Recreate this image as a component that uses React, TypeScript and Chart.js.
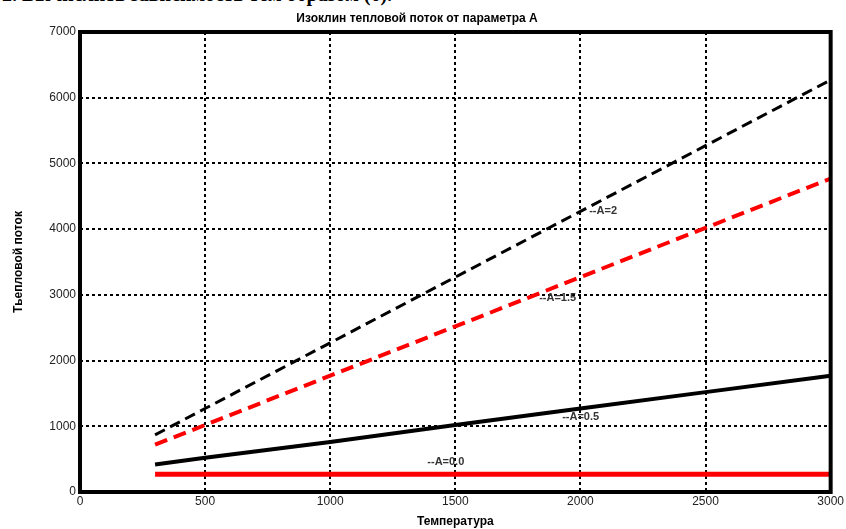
import React, { useEffect, useRef } from "react";
import { Chart, registerables } from "chart.js";

Chart.register(...registerables);

const temps = [300, 500, 1000, 1500, 2000, 2500, 3000];
const seriesA2 = [870, 1270, 2270, 3270, 4270, 5270, 6270];
const seriesA15 = [720, 1020, 1770, 2520, 3270, 4020, 4770];
const seriesA05 = [420, 520, 760, 1020, 1270, 1520, 1770];
const seriesA0 = [270, 270, 270, 270, 270, 270, 270];

const lineLabels = ["--A=2", "--A=1.5", "--A=0.5", "--A=0.0"];
const lineLabelX = [2035, 1835, 1927, 1388];
const lineLabelY = [4277, 2953, 1142, 457];

const chartTitle = "Изоклин тепловой поток от параметра А";
const xTitle = "Температура";
const yTitle = "Тьепловой поток";
const pageHeading = "2. Вычислить зависимость тем образом (6).";

const FONT = "'Liberation Sans', Arial, sans-serif";

export default function App() {
  const ref = useRef<HTMLCanvasElement | null>(null);

  useEffect(() => {
    document.body.style.margin = "0";
    const canvas = ref.current;
    if (!canvas) return;

    const framePlugin = {
      id: "frame",
      afterDatasetsDraw(chart: any) {
        const { ctx, chartArea: a, scales } = chart;
        ctx.save();
        ctx.font = `bold 11px ${FONT}`;
        ctx.fillStyle = "#333";
        ctx.textBaseline = "middle";
        ctx.textAlign = "left";
        lineLabels.forEach((t, i) => {
          ctx.fillText(t, scales.x.getPixelForValue(lineLabelX[i]), scales.y.getPixelForValue(lineLabelY[i]));
        });
        ctx.strokeStyle = "#000";
        ctx.lineWidth = 4;
        ctx.strokeRect(a.left, a.top, a.right - a.left, a.bottom - a.top);
        ctx.restore();
      },
    };

    const gridColor = (c: any) => {
      const v = c.tick ? c.tick.value : 0;
      const s = c.scale;
      return v === s.min || v === s.max ? "rgba(0,0,0,0)" : "#000";
    };

    const mk = (label: string, data: number[], color: string, width: number, dash: number[]) => ({
      label,
      data: temps.map((t, i) => ({ x: t, y: data[i] })),
      borderColor: color,
      borderWidth: width,
      borderDash: dash,
      pointRadius: 0,
      fill: false,
      tension: 0,
    });

    const chart = new Chart(canvas, {
      type: "line",
      data: {
        datasets: [
          mk("A=2", seriesA2, "#000", 3, [11, 6]),
          mk("A=1.5", seriesA15, "#ff0000", 4, [13, 7]),
          mk("A=0.5", seriesA05, "#000", 4, []),
          mk("A=0", seriesA0, "#ff0000", 5, []),
        ],
      },
      options: {
        animation: false,
        responsive: false,
        maintainAspectRatio: false,
        layout: { padding: { left: 0, right: 12, top: 0, bottom: 0 } },
        plugins: {
          legend: { display: false },
          tooltip: { enabled: false },
          title: {
            display: true,
            text: chartTitle,
            color: "#000",
            font: { family: FONT, size: 12, weight: "bold" },
            padding: { top: 11, bottom: 6.6 },
          },
        },
        scales: {
          x: {
            type: "linear",
            min: 0,
            max: 3000,
            afterFit: (s: any) => {
              s.height = 37;
            },
            ticks: {
              stepSize: 500,
              color: "#222",
              font: { family: FONT, size: 12 },
              padding: 2,
              maxRotation: 0,
              callback: (v: any) => String(v),
            },
            grid: { color: gridColor, lineWidth: 2, drawTicks: false },
            border: { display: false, dash: [3, 3] },
            title: {
              display: true,
              text: xTitle,
              color: "#000",
              font: { family: FONT, size: 12, weight: "bold" },
              padding: { top: 0, bottom: 0 },
            },
          },
          y: {
            type: "linear",
            min: 0,
            max: 7000,
            afterFit: (s: any) => {
              s.width = 80;
            },
            ticks: {
              stepSize: 1000,
              color: "#222",
              font: { family: FONT, size: 12 },
              padding: 4,
              callback: (v: any) => String(v),
            },
            grid: { color: gridColor, lineWidth: 2, drawTicks: false },
            border: { display: false, dash: [3, 3] },
            title: {
              display: true,
              text: yTitle,
              color: "#000",
              font: { family: FONT, size: 12, weight: "bold" },
              padding: { top: 11, bottom: 4 },
            },
          },
        },
      },
      plugins: [framePlugin],
    } as any);

    return () => chart.destroy();
  }, []);

  return (
    <div style={{ position: "fixed", left: 0, top: 0, width: 846, height: 529, background: "#fff", overflow: "hidden" }}>
      <div
        style={{
          position: "absolute",
          left: 2,
          top: -17,
          fontFamily: "'Liberation Serif', 'Times New Roman', serif",
          fontWeight: "bold",
          fontSize: 20,
          whiteSpace: "nowrap",
          color: "#000",
        }}
      >
        {pageHeading}
      </div>
      <canvas ref={ref} width={846} height={529} style={{ position: "absolute", left: 0, top: 0 }} />
    </div>
  );
}
